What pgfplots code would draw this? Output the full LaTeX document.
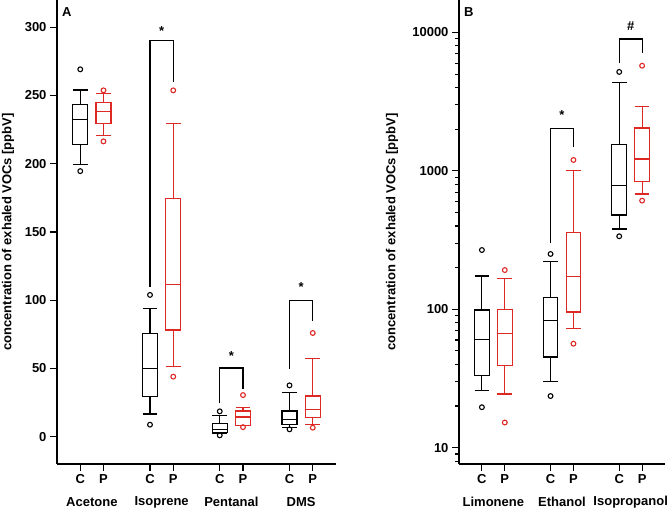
\documentclass[border=0pt]{standalone}
\usepackage{fontspec}
\setmainfont{Liberation Sans}
\usepackage{pgfplots}
\pgfplotsset{compat=1.18}
\definecolor{myred}{RGB}{222,40,36}
\newcommand{\lf}{\fontsize{13}{15}\selectfont\bfseries}
\pgfplotsset{
  base/.style={
    scale only axis, height=464pt,
    axis x line*=bottom, axis y line*=left,
    axis line style={line width=1.2pt,-},
    every tick/.style={line width=1.1pt,black},
    tick align=outside, major tick length=7pt, minor tick length=4pt,
    ticklabel style={font=\lf},
    /pgf/number format/assume math mode=true,
    label style={font=\lf},
    clip=false,
  },
  ln/.style={line width=1.15pt, solid, line join=miter, line cap=rect, mark=none},
}
% box: colour, x, lower whisker, lower quartile, median, upper quartile, upper whisker, outliers
\newcommand{\lbox}[8]{%
  \pgfmathsetmacro\xl{#2-0.32}\pgfmathsetmacro\xr{#2+0.32}%
  \addplot[#1, ln] coordinates {(\xl,#4) (\xr,#4) (\xr,#6) (\xl,#6) (\xl,#4) (\xr,#4)};
  \addplot[#1, ln, line cap=butt] coordinates {(\xl,#5) (\xr,#5)};
  \addplot[#1, ln, line cap=butt] coordinates {(#2,#6) (#2,#7)};
  \addplot[#1, ln, line cap=butt] coordinates {(#2,#4) (#2,#3)};
  \addplot[#1, ln, line cap=butt] coordinates {(\xl,#7) (\xr,#7)};
  \addplot[#1, ln, line cap=butt] coordinates {(\xl,#3) (\xr,#3)};
  \addplot[#1, only marks, mark=o, mark size=2.4pt, mark options={line width=1.1pt}] coordinates {#8};
}
\begin{document}
\begin{tikzpicture}
\begin{axis}[base, width=279pt, xmin=0, xmax=12, ymin=-20, ymax=320,
  ytick={0,50,100,150,200,250,300},
  xtick={1,2,4,5,7,8,10,11}, xticklabels={C,P,C,P,C,P,C,P},
  ylabel={concentration of exhaled VOCs [ppbV]},
  ylabel style={at={(axis description cs:0,0.5)}, anchor=center, yshift=49pt}]
\lbox{black}{1}{199.5}{213.9}{232.2}{243.5}{254}{(1,269.2) (1,194.6)}
\lbox{myred}{2}{221}{229.3}{238.6}{245}{251.3}{(2,253.8) (2,216.4)}
\lbox{black}{4}{16.6}{29.6}{49.9}{75.5}{93.9}{(4,103.9) (4,8.8)}
\lbox{myred}{5}{51.6}{78.2}{111.7}{174.6}{229.8}{(5,253.8) (5,44)}
\lbox{black}{7}{2.3}{3.0}{5.5}{9.5}{15.6}{(7,18.6) (7,1.0)}
\lbox{myred}{8}{7.9}{8.3}{14.4}{18.8}{21.7}{(8,30.5) (8,7.0)}
\lbox{black}{10}{7.0}{9.0}{12.7}{18.8}{32.7}{(10,37.6) (10,5.4)}
\lbox{myred}{11}{8.8}{13.9}{19.8}{29.8}{57.2}{(11,76) (11,6.6)}
\addplot[black, line width=1.15pt] coordinates {(4,110) (4,290.2) (5,290.2) (5,260)};
\addplot[black, line width=1.15pt] coordinates {(7,24.4) (7,50.3) (8,50.3) (8,34.7)};
\addplot[black, line width=1.15pt] coordinates {(10,49.9) (10,100) (11,100) (11,84.8)};
\node[anchor=base, font=\lf] at (axis cs:4.5,294) {*};
\node[anchor=base, font=\lf] at (axis cs:7.5,56) {*};
\node[anchor=base, font=\lf] at (axis cs:10.5,106.7) {*};
\node[anchor=north west, font=\lf, inner sep=0pt] at (axis cs:0,320) [xshift=5pt, yshift=-7pt] {A};
\node[font=\lf] at (axis cs:1.5,-20) [yshift=-38pt] {Acetone};
\node[font=\lf] at (axis cs:4.5,-20) [yshift=-38pt] {Isoprene};
\node[font=\lf] at (axis cs:7.5,-20) [yshift=-38pt] {Pentanal};
\node[font=\lf] at (axis cs:10.5,-20) [yshift=-38pt] {DMS};
\end{axis}
\begin{axis}[base, at={(402pt,0pt)}, width=206pt, xmin=0, xmax=9, ymode=log, ymin=7.62, ymax=17180,
  ytick={10,100,1000,10000}, yticklabels={10,100,1000,10000},
  minor ytick={8,9,20,30,40,50,60,70,80,90,200,300,400,500,600,700,800,900,2000,3000,4000,5000,6000,7000,8000,9000},
  xtick={1,2,4,5,7,8}, xticklabels={C,P,C,P,C,P},
  ylabel={concentration of exhaled VOCs [ppbV]},
  ylabel style={at={(axis description cs:0,0.5)}, anchor=center, yshift=67pt}]
\lbox{black}{1}{25.8}{33.3}{60.3}{98.9}{174}{(1,268) (1,19.6)}
\lbox{myred}{2}{24.4}{39.4}{67.2}{99}{167.5}{(2,192) (2,15.2)}
\lbox{black}{4}{29.9}{45.2}{82.8}{122}{221}{(4,251) (4,23.6)}
\lbox{myred}{5}{72.9}{95.5}{172}{360}{1002}{(5,1199) (5,56.4)}
\lbox{black}{7}{380}{480}{787}{1556}{4334}{(7,5190) (7,337)}
\lbox{myred}{8}{681}{841}{1219}{2042}{2911}{(8,5754) (8,610)}
\addplot[black, line width=1.15pt] coordinates {(4,300) (4,2018) (5,2018) (5,1496)};
\addplot[black, line width=1.15pt] coordinates {(7,5985) (7,8980) (8,8980) (8,7080)};
\node[anchor=base, font=\lf] at (axis cs:4.5,2333) {*};
\node[anchor=base, font=\lf] at (axis cs:7.5,10380) {\#};
\node[anchor=north west, font=\lf, inner sep=0pt] at (axis cs:0,17180) [xshift=5pt, yshift=-7pt] {B};
\node[font=\lf] at (axis cs:1.5,7.62) [yshift=-38pt] {Limonene};
\node[font=\lf] at (axis cs:4.5,7.62) [yshift=-38pt] {Ethanol};
\node[font=\lf] at (axis cs:7.5,7.62) [yshift=-38pt] {Isopropanol};
\end{axis}
\pgfresetboundingbox
\path[use as bounding box] (-57pt,-46pt) rectangle (612pt,464pt);
\end{tikzpicture}
\end{document}
